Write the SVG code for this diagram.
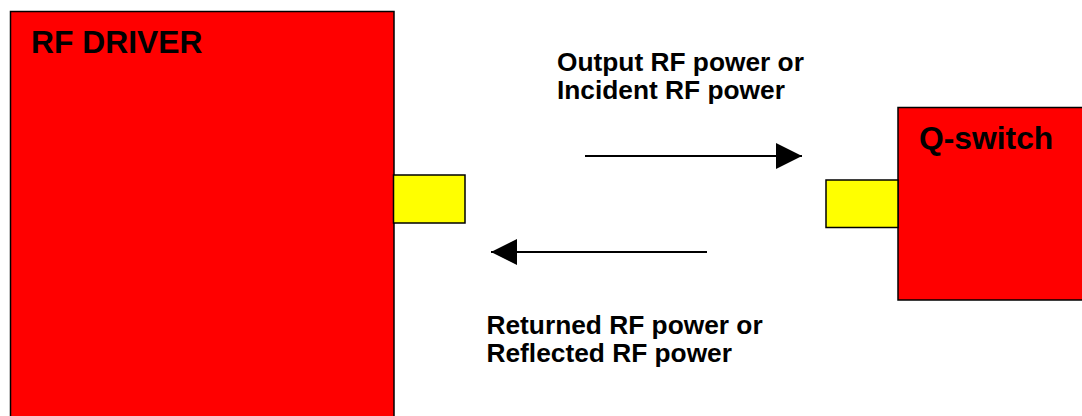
<svg xmlns="http://www.w3.org/2000/svg" width="1082" height="416" viewBox="0 0 1082 416">
<style>
.box{fill:#ff0000;stroke:#000;stroke-width:1.5}
.port{fill:#ffff00;stroke:#000;stroke-width:1.5}
.title{font-family:"Liberation Sans",Arial,sans-serif;font-weight:bold;font-size:31.8px;fill:#000}
.lbl{font-family:"Liberation Sans",Arial,sans-serif;font-weight:bold;font-size:26.3px;fill:#000}
.wire{stroke:#000;stroke-width:2.2;fill:none}
</style>
<defs>
<marker id="ah" viewBox="0 0 26 26" refX="26" refY="13" markerWidth="26" markerHeight="26" markerUnits="userSpaceOnUse" orient="auto">
<path d="M0,0 L26,13 L0,26 Z" fill="#000"/>
</marker>
</defs>
<rect width="1082" height="416" fill="#fff"/>
<g id="rf-driver">
<rect class="box" x="10.5" y="11.5" width="383.5" height="420"/>
<text class="title" x="31" y="53">RF DRIVER</text>
<rect class="port" x="393.5" y="175" width="71.5" height="48"/>
</g>
<g id="q-switch">
<rect class="box" x="898" y="107.5" width="200" height="192.5"/>
<text class="title" x="919" y="149">Q-switch</text>
<rect class="port" x="826" y="180" width="72" height="47.5"/>
</g>
<g id="labels">
<text class="lbl" x="557" y="71">Output RF power or<tspan x="557" y="99">Incident RF power</tspan></text>
<text class="lbl" x="486.5" y="334">Returned RF power or<tspan x="486.5" y="362">Reflected RF power</tspan></text>
</g>
<g id="connectors">
<line class="wire" x1="585" y1="156" x2="802" y2="156" marker-end="url(#ah)"/>
<line class="wire" x1="707" y1="252" x2="491" y2="252" marker-end="url(#ah)"/>
</g>
</svg>
